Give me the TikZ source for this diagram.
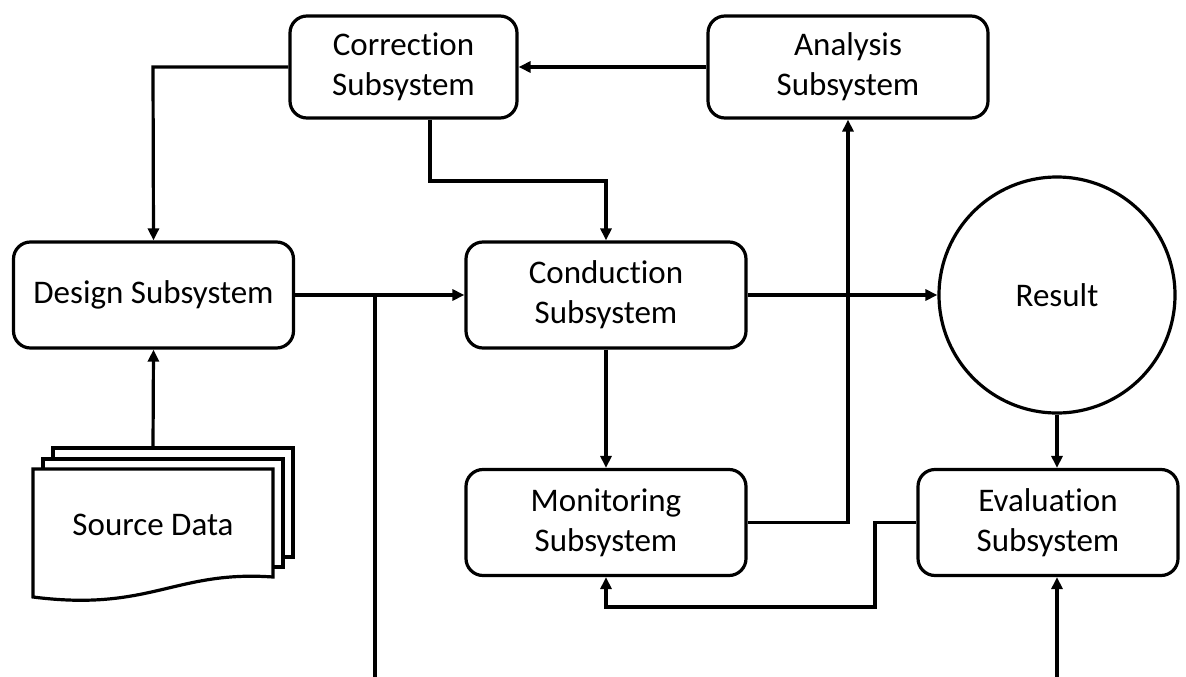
\documentclass[tikz,border=0pt]{standalone}
\usepackage{fontspec}
\setmainfont{Carlito}[Ligatures=NoCommon]
\usetikzlibrary{arrows.meta}

\begin{document}
\begin{tikzpicture}[x=1pt,y=-1pt,line width=3.2pt,
  sub/.style={draw,rounded corners=17pt,minimum width=280pt,minimum height=106pt,align=center,font=\fontsize{33}{40}\selectfont},
  con/.style={-{Triangle[length=12pt,width=11pt]},line width=3.2pt}]

\useasboundingbox (0,0) rectangle (1186,677);

\node[sub,minimum width=227pt,minimum height=102pt] (corr) at (403.5,67) {Correction\\Subsystem};
\node[sub,minimum height=102pt] (anal) at (848,67) {Analysis\\Subsystem};
\node[sub] (des) at (153.5,295) {Design Subsystem};
\node[sub] (cond) at (606,295) {Conduction\\Subsystem};
\node[draw,circle,minimum size=236pt,font=\fontsize{33}{40}\selectfont] (res) at (1057,295) {Result};
\node[sub] (mon) at (606,522.5) {Monitoring\\Subsystem};
\node[sub,minimum width=260pt] (eval) at (1048,522.5) {Evaluation\\Subsystem};

% source data sheets
\draw[fill=white] (53,557) -- (53,448) -- (293,448) -- (293,557) -- cycle;
\draw[fill=white] (43,567) -- (43,459) -- (283,459) -- (283,567) -- cycle;
\draw[fill=white] (33,597) -- (33,469) -- (273,469) -- (273,577)
  .. controls (175,570) and (150,612) .. cycle;
\node[font=\fontsize{33}{40}\selectfont] (src) at (153,525) {Source Data};
\coordinate (srctop) at (153,448);

\coordinate (j1) at (153,67);
\coordinate (j2) at (430,181);
\coordinate (j3) at (606,181);
\coordinate (j4) at (375,295);
\coordinate (b1) at (375,677);
\coordinate (j5) at (848,522.5);
\coordinate (j6) at (875,522.5);
\coordinate (j7) at (875,607);
\coordinate (j8) at (606,607);
\coordinate (b2) at (1057,677);

\draw[con] (anal.west) -- (corr.east);
\draw[con] (corr.west) -- (j1) -- (des.north);
\draw[con] (corr.south -| j2) -- (j2) -- (j3) -- (cond.north);
\draw[con] (srctop) -- (des.south);
\draw[con] (des.east) -- (cond.west);
\draw (b1) -- (j4);
\draw[con] (cond.east) -- (res.west);
\draw[con] (cond.south) -- (mon.north);
\draw[con] (mon.east) -- (j5) -- (anal.south -| j5);
\draw[con] (eval.west) -- (j6) -- (j7) -- (j8) -- (mon.south);
\draw[con] (res.south) -- (res.south |- eval.north);
\draw[con] (b2) -- (b2 |- eval.south);

\end{tikzpicture}
\end{document}
